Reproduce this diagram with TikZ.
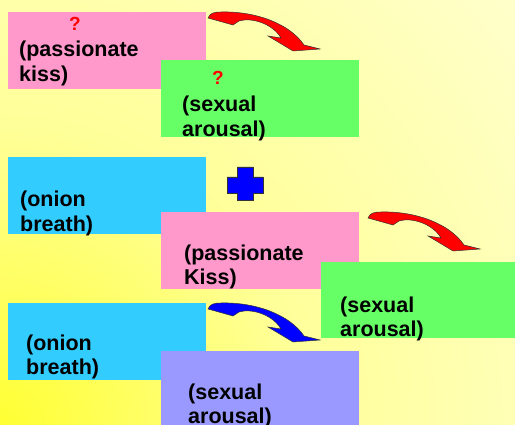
\documentclass[tikz,border=0pt]{standalone}
\usepackage{fontspec}
\setmainfont{Liberation Sans}
\usetikzlibrary{positioning, calc}
\definecolor{rosaBeso}{HTML}{FF99CC}
\definecolor{verdeExcitacion}{HTML}{66FF66}
\definecolor{cianCebolla}{HTML}{33CCFF}
\definecolor{lilaExcitacion}{HTML}{9999FF}
\definecolor{rojoFlecha}{HTML}{FF0000}
\definecolor{azulFlecha}{HTML}{0000FF}
\definecolor{fondoAmarillo}{HTML}{FFFF33}
\definecolor{fondoMedio}{HTML}{FFFF99}
\definecolor{fondoClaro}{HTML}{FFFFDD}
\definecolor{fondoCrema}{HTML}{FFFFF6}
\pgfdeclareradialshading{fondoRadial}{\pgfpoint{0bp}{0bp}}{%
  color(0bp)=(fondoAmarillo); color(7.5bp)=(fondoMedio);
  color(20bp)=(fondoClaro); color(30bp)=(fondoCrema); color(50bp)=(white)}
\tikzset{
  cajaBase/.style={
    anchor=north west, inner sep=0pt, outer sep=0pt,
    minimum width=198pt, minimum height=77pt
  },
  cajaBeso/.style={cajaBase, fill=rosaBeso},
  cajaExcitacion/.style={cajaBase, fill=verdeExcitacion},
  cajaCebolla/.style={cajaBase, fill=cianCebolla},
  cajaLila/.style={cajaBase, fill=lilaExcitacion},
  textoCaja/.style={anchor=base west, align=left, inner sep=0pt,
    font=\fontsize{21.5}{24.5}\selectfont\bfseries},
  preguntaRoja/.style={anchor=base, inner sep=0pt, text=red,
    font=\fontsize{19}{22}\selectfont\bfseries},
  flechaCurva/.pic={
    \filldraw[draw=black!80, line width=0.5pt, pic actions]
      (2,6) .. controls (4,1) and (8,0) .. (15,0)
      .. controls (50,-1) and (84,12) .. (98,33)
      -- (114,37) -- (87,39) -- (62,24) -- (75,26)
      .. controls (67,12) and (46,5) .. (33,9)
      -- (27,13) -- cycle;
  },
}
\begin{document}
\begin{tikzpicture}[x=1pt, y=-1pt]
  \useasboundingbox (0,0) rectangle (515,425);
  \clip (0,0) rectangle (515,425);
  \shade[shading=fondoRadial] (0,425) circle[radius=1000pt];

  % primera fila
  \node[cajaBeso] (beso1) at (8,12) {};
  \node[textoCaja] (txtBeso1) at ([shift={(11,69.5)}]beso1.north west) {(passionate\\kiss)};
  \node[preguntaRoja] (preg1) at ([shift={(67,19)}]beso1.north west) {?};
  \node[cajaExcitacion] (excit1) at (161,60) {};
  \node[textoCaja] (txtExcit1) at ([shift={(21,76.5)}]excit1.north west) {(sexual\\arousal)};
  \node[preguntaRoja] (preg2) at ([shift={(57,25)}]excit1.north west) {?};
  \pic[fill=rojoFlecha] at (beso1.north east) {flechaCurva};

  % segunda fila
  \node[cajaCebolla] (cebolla1) at (8,157) {};
  \node[textoCaja] (txtCebolla1) at ([shift={(12,74.5)}]cebolla1.north west) {(onion\\breath)};
  \coordinate (masSigno) at (245,183.5);
  \filldraw[fill=azulFlecha, draw=black!80, line width=0.5pt]
    ($(masSigno)+(-18,-6.5)$) -- ++(10,0) -- ++(0,-10) -- ++(16,0) -- ++(0,10)
    -- ++(10,0) -- ++(0,16) -- ++(-10,0) -- ++(0,7) -- ++(-16,0) -- ++(0,-7)
    -- ++(-10,0) -- cycle;
  \node[cajaBeso] (beso2) at (161,212) {};
  \node[textoCaja] (txtBeso2) at ([shift={(23,72.5)}]beso2.north west) {(passionate\\Kiss)};
  \node[cajaExcitacion, minimum width=194pt, minimum height=76pt] (excit2) at (321,262) {};
  \node[textoCaja] (txtExcit2) at ([shift={(19,74.5)}]excit2.north west) {(sexual\\arousal)};
  \pic[fill=rojoFlecha] at ([xshift=7pt]beso2.north east) {flechaCurva};

  % tercera fila
  \node[cajaCebolla] (cebolla2) at (8,303) {};
  \node[textoCaja] (txtCebolla2) at ([shift={(18,71.5)}]cebolla2.north west) {(onion\\breath)};
  \node[cajaLila] (lila1) at (161,351) {};
  \node[textoCaja] (txtLila1) at ([shift={(27,72.5)}]lila1.north west) {(sexual\\arousal)};
  \pic[fill=azulFlecha] at (cebolla2.north east) {flechaCurva};
\end{tikzpicture}
\end{document}
